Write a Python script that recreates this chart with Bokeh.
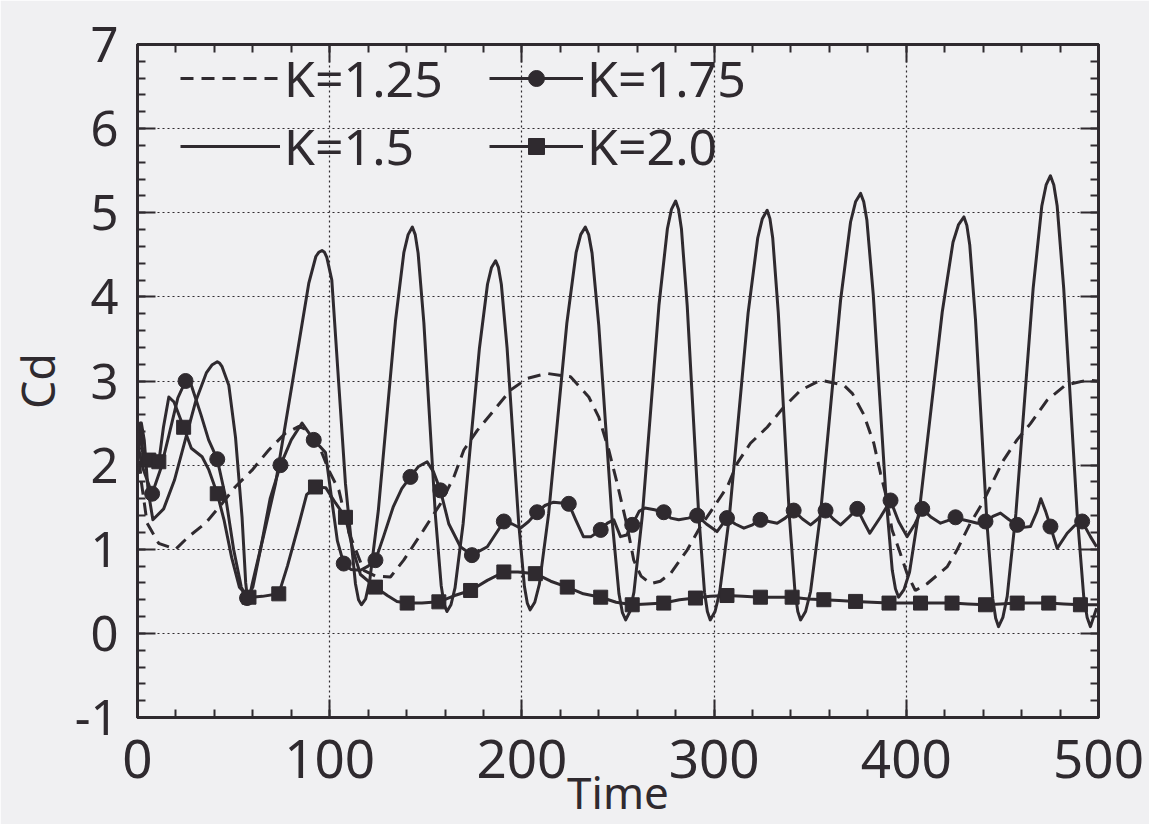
from bokeh.plotting import figure
from bokeh.models import (Legend, LegendItem, LinearAxis, Range1d,
                          SingleIntervalTicker, PrintfTickFormatter)
from bokeh.embed import file_html
from bokeh.resources import INLINE

# ---------------- data ----------------
x_ticks_interval = 100
y_ticks_interval = 1
x_title = "Time"
y_title = "Cd"

# K=1.25 (dashed)
k125 = [(0, 2.3), (2, 1.8), (5, 1.31), (11, 1.07), (19.8, 1.0), (26.6, 1.15), (35.4, 1.31),
        (43.9, 1.54), (50.8, 1.74), (59.6, 1.94), (68.3, 2.18), (77, 2.38), (84, 2.46),
        (90, 2.4), (95, 2.2), (99.5, 1.94), (104.8, 1.7), (110, 1.2), (117.7, 0.75),
        (124, 0.68), (131.6, 0.67), (138.5, 0.87), (148.9, 1.23), (157.6, 1.54),
        (164.6, 1.86), (169.8, 2.18), (176.7, 2.41), (185.4, 2.65), (194, 2.89),
        (202.7, 3.03), (213, 3.09), (225.3, 3.05), (234.8, 2.81), (240, 2.57),
        (245.2, 2.18), (249.6, 1.78), (254.8, 1.27), (258.2, 0.87), (262, 0.68),
        (267, 0.59), (272, 0.62), (277.3, 0.71), (286, 0.99), (292.9, 1.27),
        (299.8, 1.50), (306.8, 1.74), (312, 2.02), (318.9, 2.26), (327.6, 2.45),
        (336.3, 2.69), (345, 2.89), (355.4, 3.01), (367.5, 2.95), (372, 2.85),
        (377.9, 2.6), (383.1, 2.26), (386.6, 1.90), (389.2, 1.66), (392.6, 1.23),
        (396.9, 0.95), (400.4, 0.71), (404.7, 0.51), (410.8, 0.59), (421.2, 0.79),
        (426.4, 0.99), (433.3, 1.31), (439.4, 1.54), (445.4, 1.82), (450.6, 2.06),
        (457.6, 2.30), (464.5, 2.49), (473.2, 2.77), (482.7, 2.95), (494.1, 3.01),
        (499.5, 3.0)]

# K=1.5 (solid)
k15 = [(0, 2.0), (2, 2.5), (3.5, 2.3), (5.5, 1.7), (8, 1.35), (13.6, 1.48), (19.2, 1.82),
       (24.75, 2.29), (30.3, 2.76), (35.9, 3.10), (38.7, 3.19), (41.5, 3.23), (42.8, 3.21),
       (44, 3.17), (47.5, 2.95), (51, 2.33), (54.4, 1.38), (56.3, 0.6), (57.5, 0.35),
       (59.7, 0.59), (65.5, 1.15), (71.8, 1.78), (80.5, 2.97), (89.1, 4.16), (92.8, 4.48),
       (94.3, 4.53), (96, 4.55), (97.3, 4.53), (98.5, 4.47), (101.1, 4.2), (104.7, 2.97),
       (108.2, 1.78), (113.4, 0.59), (115, 0.4), (116.5, 0.34), (118.7, 0.41),
       (120.9, 0.64), (125.3, 1.46), (129.75, 2.585), (134.2, 3.71), (138.6, 4.53),
       (140.8, 4.74), (143, 4.83), (144.5, 4.74), (146, 4.52), (149, 3.69), (152, 2.545),
       (155, 1.40), (158, 0.57), (159.5, 0.35), (161, 0.26), (163.1, 0.34), (165.2, 0.54),
       (169.4, 1.30), (173.65, 2.345), (177.9, 3.39), (182.1, 4.15), (184.2, 4.35),
       (186.3, 4.43), (187.8, 4.35), (189.3, 4.15), (192.3, 3.39), (195.3, 2.355),
       (198.3, 1.32), (201.3, 0.56), (202.8, 0.36), (204.3, 0.28), (206.7, 0.37),
       (209.1, 0.585), (213.9, 1.42), (218.65, 2.555), (223.4, 3.69), (228.2, 4.525),
       (230.6, 4.74), (233, 4.83), (234.75, 4.74), (236.5, 4.52), (240, 3.66),
       (243.5, 2.495), (247, 1.33), (250.5, 0.47), (252.25, 0.25), (254, 0.16),
       (256.2, 0.26), (258.3, 0.49), (262.7, 1.41), (267, 2.65), (271.3, 3.90),
       (275.7, 4.81), (277.8, 5.04), (280, 5.14), (281.5, 5.04), (283, 4.81), (286, 3.90),
       (289, 2.65), (292, 1.41), (295, 0.49), (296.5, 0.26), (298, 0.16), (300.5, 0.26),
       (302.9, 0.49), (307.9, 1.38), (312.8, 2.595), (317.7, 3.81), (322.7, 4.70),
       (325.1, 4.93), (327.6, 5.03), (329.05, 4.93), (330.5, 4.70), (333.4, 3.81),
       (336.3, 2.595), (339.2, 1.38), (342.1, 0.49), (343.55, 0.26), (345, 0.16),
       (347.6, 0.26), (350.2, 0.50), (355.4, 1.43), (360.6, 2.695), (365.8, 3.96),
       (371, 4.89), (373.6, 5.13), (376.2, 5.23), (377.85, 5.13), (379.5, 4.91),
       (382.8, 4.03), (386.1, 2.83), (389.4, 1.63), (392.7, 0.75), (394.35, 0.53),
       (396, 0.43), (398.8, 0.52), (401.7, 0.73), (407.3, 1.56), (413, 2.69),
       (418.7, 3.82), (424.3, 4.65), (427.2, 4.86), (430, 4.95), (431.5, 4.85),
       (433, 4.62), (436, 3.73), (439, 2.515), (442, 1.30), (445, 0.41), (446.5, 0.18),
       (448, 0.08), (450.25, 0.19), (452.5, 0.44), (457, 1.42), (461.5, 2.76),
       (466, 4.10), (470.5, 5.08), (472.75, 5.33), (475, 5.44), (476.75, 5.33),
       (478.5, 5.08), (481.9, 4.10), (485.4, 2.76), (488.9, 1.42), (492.3, 0.44),
       (494.1, 0.19), (495.8, 0.08), (499, 0.3)]

# K=1.75 (solid with circles)
k175 = [(0, 2.25), (3, 1.95), (7.6, 1.66), (12, 1.95), (16.3, 2.35), (21, 2.8), (25, 3.0),
        (28, 2.95), (33, 2.6), (37, 2.3), (41.5, 2.07), (46, 1.6), (50, 1.0), (54, 0.55),
        (57, 0.42), (60, 0.55), (64, 1.0), (69, 1.6), (74.4, 2.0), (80, 2.3), (85.6, 2.5),
        (91.7, 2.3), (95, 2.22), (97.8, 2.15), (101, 1.6), (104, 1.1), (107.3, 0.83),
        (111, 0.76), (116, 0.75), (120, 0.8), (123.8, 0.87), (128, 1.15), (133, 1.5),
        (137.5, 1.72), (142, 1.86), (146, 1.98), (150.7, 2.04), (154, 1.92),
        (157.6, 1.70), (162, 1.3), (168, 1.03), (174, 0.93), (182, 1.03), (190.6, 1.33),
        (195, 1.3), (199.3, 1.25), (203.5, 1.33), (207.9, 1.44), (212, 1.52),
        (216.5, 1.56), (224.4, 1.54), (228, 1.35), (232, 1.15), (236, 1.15), (241, 1.23),
        (244.5, 1.31), (247.8, 1.35), (251.3, 1.15), (254.5, 1.17), (257.4, 1.29),
        (261, 1.45), (264, 1.49), (269, 1.47), (273.8, 1.44), (277.5, 1.37),
        (281.6, 1.35), (286.5, 1.37), (291.2, 1.40), (296, 1.3), (301.5, 1.21),
        (306.7, 1.37), (311, 1.3), (315.5, 1.25), (320, 1.29), (324.1, 1.35),
        (328.5, 1.33), (332.8, 1.31), (337, 1.37), (341.4, 1.46), (346, 1.36),
        (350.2, 1.29), (354, 1.36), (358, 1.46), (362, 1.36), (365.8, 1.29), (370, 1.38),
        (374.5, 1.48), (378, 1.32), (381, 1.19), (386.5, 1.38), (391.8, 1.58),
        (396, 1.33), (400.4, 1.15), (404.5, 1.3), (408.3, 1.48), (413, 1.38),
        (417.8, 1.31), (421.5, 1.34), (425.6, 1.38), (429.5, 1.35), (433.4, 1.33),
        (437, 1.31), (441.2, 1.33), (445, 1.39), (449, 1.43), (453.5, 1.35),
        (457.7, 1.29), (461, 1.26), (464.6, 1.27), (468, 1.45), (470, 1.6),
        (472.5, 1.45), (475, 1.27), (478.5, 1.01), (483.7, 1.19), (487.5, 1.28),
        (491.5, 1.33), (495.8, 1.15), (499, 1.03)]
k175_marker_t = [7.6, 25, 41.5, 57, 74.4, 91.7, 107.3, 123.8, 142, 157.6, 174, 190.6, 207.9,
                 224.4, 241, 257.4, 273.8, 291.2, 306.7, 324.1, 341.4, 358, 374.5, 391.8,
                 408.3, 425.6, 441.2, 457.7, 475, 491.5]
k175_marker_v = [1.66, 3.0, 2.07, 0.42, 2.0, 2.3, 0.83, 0.87, 1.86, 1.70, 0.93, 1.33, 1.44,
                 1.54, 1.23, 1.29, 1.44, 1.40, 1.37, 1.35, 1.46, 1.46, 1.48, 1.58, 1.48,
                 1.38, 1.33, 1.29, 1.27, 1.33]

# K=2.0 (solid with squares)
k20 = [(0, 2.0), (1.5, 2.5), (3, 2.05), (5.9, 2.06), (8.5, 2.0), (11.1, 2.04), (13.5, 2.45),
       (16.3, 2.81), (19, 2.75), (24, 2.45), (28, 2.2), (33.6, 2.1), (37, 1.95),
       (41.5, 1.66), (45, 1.35), (49, 0.9), (53, 0.55), (58, 0.43), (65, 0.44),
       (73.5, 0.47), (78, 0.8), (84, 1.3), (88, 1.65), (92.6, 1.74), (98, 1.73),
       (103, 1.55), (108.2, 1.38), (112, 1.0), (116, 0.7), (123.8, 0.55), (130, 0.45),
       (135, 0.38), (140.3, 0.36), (148, 0.36), (156.8, 0.375), (165, 0.45),
       (173.3, 0.51), (182, 0.63), (190.6, 0.73), (198, 0.73), (207, 0.71), (215, 0.62),
       (223.6, 0.55), (232, 0.47), (241, 0.43), (249, 0.37), (257.4, 0.34), (265, 0.35),
       (273.8, 0.36), (282, 0.4), (290.3, 0.42), (298, 0.44), (306.7, 0.45), (315, 0.44),
       (324.1, 0.43), (332, 0.43), (340.6, 0.43), (349, 0.41), (357.1, 0.40),
       (365, 0.39), (373.6, 0.38), (382, 0.37), (391, 0.36), (399, 0.36), (407.4, 0.36),
       (416, 0.36), (423.8, 0.36), (432, 0.35), (441.2, 0.34), (449, 0.35),
       (457.7, 0.36), (466, 0.36), (474.1, 0.36), (482, 0.35), (490.6, 0.34),
       (499.5, 0.34)]
k20_marker_t = [5.9, 11.1, 24, 41.5, 58, 73.5, 92.6, 108.2, 123.8, 140.3, 156.8, 173.3,
                190.6, 207, 223.6, 241, 257.4, 273.8, 290.3, 306.7, 324.1, 340.6, 357.1,
                373.6, 391, 407.4, 423.8, 441.2, 457.7, 474.1, 490.6]
k20_marker_v = [2.06, 2.04, 2.45, 1.66, 0.43, 0.47, 1.74, 1.38, 0.55, 0.36, 0.375, 0.51,
                0.73, 0.71, 0.55, 0.43, 0.34, 0.36, 0.42, 0.45, 0.43, 0.43, 0.40, 0.38,
                0.36, 0.36, 0.36, 0.34, 0.36, 0.36, 0.34]

labels = ["K=1.25", "K=1.5", "K=1.75", "K=2.0"]

# ---------------- figure ----------------
FONT = "Noto Sans"
INK = "#2f2a2f"
BG = "#f0f0f2"

p = figure(width=1149, height=824, x_range=Range1d(0, 500), y_range=Range1d(-1, 7),
           output_backend="svg", toolbar_location=None,
           min_border_left=137, min_border_right=51, min_border_top=44,
           min_border_bottom=107,
           background_fill_color=BG, border_fill_color=BG)
p.outline_line_color = INK
p.outline_line_width = 3

xt = SingleIntervalTicker(interval=x_ticks_interval, num_minor_ticks=5)
yt = SingleIntervalTicker(interval=y_ticks_interval, num_minor_ticks=5)


def style_axis(ax, ticker, show_labels, size, standoff):
    ax.ticker = ticker
    ax.axis_line_color = INK
    ax.axis_line_width = 3
    ax.major_tick_line_color = INK
    ax.major_tick_line_width = 2
    ax.minor_tick_line_color = INK
    ax.minor_tick_line_width = 2
    ax.major_tick_in = 18
    ax.major_tick_out = 0
    ax.minor_tick_in = 8
    ax.minor_tick_out = 0
    ax.major_label_standoff = standoff
    ax.formatter = PrintfTickFormatter(format="%d")
    if show_labels:
        ax.major_label_text_font = FONT
        ax.major_label_text_font_size = size
        ax.major_label_text_color = INK
        ax.axis_label_text_font = FONT
        ax.axis_label_text_font_style = "normal"
        ax.axis_label_text_color = INK
    else:
        ax.major_label_text_font_size = "0px"
        ax.major_label_text_alpha = 0


xa = p.xaxis[0]
ya = p.yaxis[0]
style_axis(xa, xt, True, "53px", 22)
style_axis(ya, yt, True, "49px", 19)
xa.axis_label = x_title
xa.axis_label_text_font_size = "44px"
xa.axis_label_standoff = -19
ya.axis_label = y_title
ya.axis_label_text_font_size = "45px"
ya.axis_label_standoff = 4

top_ax = LinearAxis()
right_ax = LinearAxis()
style_axis(top_ax, SingleIntervalTicker(interval=x_ticks_interval, num_minor_ticks=5),
           False, "0px", 0)
style_axis(right_ax, SingleIntervalTicker(interval=y_ticks_interval, num_minor_ticks=5),
           False, "0px", 0)
p.add_layout(top_ax, "above")
p.add_layout(right_ax, "right")

for g in (p.xgrid[0], p.ygrid[0]):
    g.grid_line_color = INK
    g.grid_line_dash = "2 3"
    g.grid_line_width = 1.2
p.xgrid[0].ticker = xt
p.ygrid[0].ticker = yt

r125 = p.line([a for a, b in k125], [b for a, b in k125], line_color=INK, line_width=3,
              line_dash="13 8")
r15 = p.line([a for a, b in k15], [b for a, b in k15], line_color=INK, line_width=3,
             line_join="round")
r175l = p.line([a for a, b in k175], [b for a, b in k175], line_color=INK, line_width=3,
               line_join="round")
r175m = p.scatter(k175_marker_t, k175_marker_v, marker="circle", size=15,
                  fill_color=INK, line_color=INK)
r20l = p.line([a for a, b in k20], [b for a, b in k20], line_color=INK, line_width=3,
              line_join="round")
r20m = p.scatter(k20_marker_t, k20_marker_v, marker="square", size=14,
                 fill_color=INK, line_color=INK)


def make_legend(items, x, y, gw):
    lg = Legend(items=items, location=(x, y), orientation="vertical")
    lg.label_text_font = FONT
    lg.label_text_font_size = "50px"
    lg.label_text_color = INK
    lg.glyph_width = gw
    lg.glyph_height = 40
    lg.label_height = 40
    lg.label_standoff = 4
    lg.spacing = 0
    lg.padding = 0
    lg.margin = 0
    lg.border_line_color = None
    lg.background_fill_alpha = 0
    return lg


lg1 = make_legend([LegendItem(label=labels[0], renderers=[r125]),
                   LegendItem(label=labels[1], renderers=[r15])], 43, 537, 100)
lg2 = make_legend([LegendItem(label=labels[2], renderers=[r175l, r175m]),
                   LegendItem(label=labels[3], renderers=[r20l, r20m])], 352, 537, 94)
p.add_layout(lg1, "center")
p.add_layout(lg2, "center")

open("out.html", "w").write(file_html(p, INLINE))
